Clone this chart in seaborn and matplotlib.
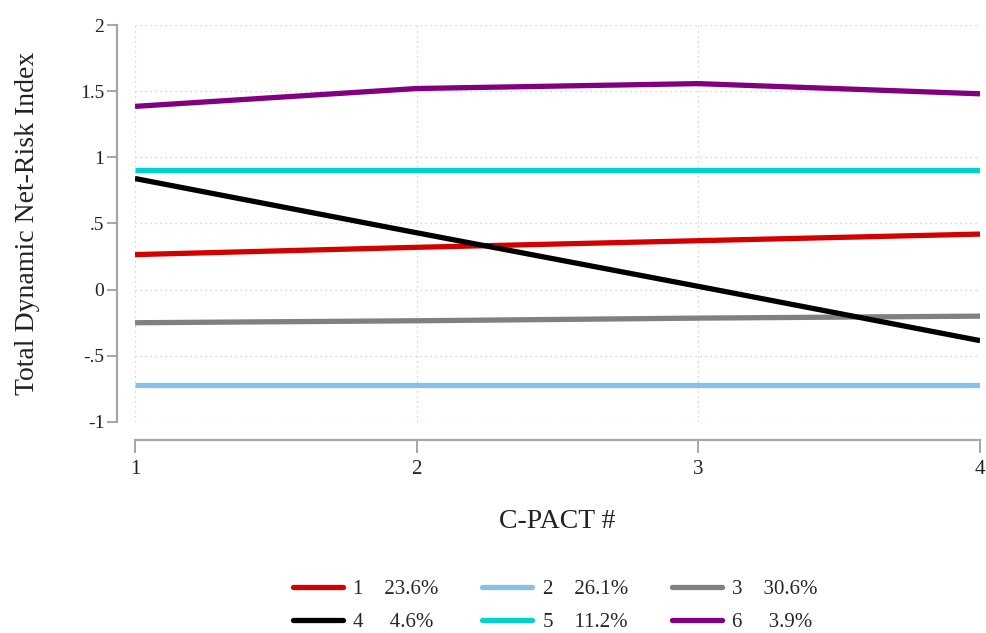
import numpy as np
import pandas as pd
import matplotlib
matplotlib.use("Agg")
import matplotlib.pyplot as plt
import seaborn as sns
from matplotlib.lines import Line2D

# C-PACT trajectories of the total dynamic net-risk index, by latent class
cpact = [1, 2, 3, 4]
class_ids = ["1", "2", "3", "4", "5", "6"]
class_share = ["23.6%", "26.1%", "30.6%", "4.6%", "11.2%", "3.9%"]
class_1 = [0.265, 0.32, 0.37, 0.42]
class_2 = [-0.72, -0.72, -0.72, -0.72]
class_3 = [-0.25, -0.235, -0.215, -0.20]
class_4 = [0.84, 0.43, 0.025, -0.385]
class_5 = [0.907, 0.907, 0.907, 0.907]
class_6 = [1.385, 1.52, 1.557, 1.48]
colors = ["#d40000", "#88c0ea", "#808080", "#000000", "#00d2d2", "#800080"]

series = [class_1, class_2, class_3, class_4, class_5, class_6]
df = pd.DataFrame({
    "cpact": cpact * len(class_ids),
    "risk": np.concatenate(series),
    "cls": np.repeat(class_ids, len(cpact)),
})

sns.set_style("white")
plt.rcParams["font.family"] = ["Liberation Serif", "DejaVu Serif"]

fig = plt.figure(figsize=(9.87, 6.33), dpi=100)
ax = fig.add_axes([135 / 987, 1 - 422 / 633, 845 / 987, 397 / 633])

sns.lineplot(data=df, x="cpact", y="risk", hue="cls", palette=colors,
             linewidth=3.8, legend=False, ax=ax, solid_capstyle="butt")

ax.set_xlim(1, 4)
ax.set_ylim(-1, 2)
ax.set_xticks(cpact)
ax.set_xticklabels([str(c) for c in cpact])
ax.set_yticks([-1, -0.5, 0, 0.5, 1, 1.5, 2])
ax.set_yticklabels(["-1", "-.5", "0", ".5", "1", "1.5", "2"])

ax.grid(True, linestyle=(0, (1, 3)), color="#c8c8c8", linewidth=0.9)
ax.set_axisbelow(True)
for side in ["top", "right"]:
    ax.spines[side].set_visible(False)
for side in ["left", "bottom"]:
    ax.spines[side].set_position(("outward", 13))
    ax.spines[side].set_color("#a6a6a6")
    ax.spines[side].set_linewidth(1.6)
ax.tick_params(axis="both", colors="#a6a6a6", width=1.4, labelcolor="#222222")
ax.tick_params(axis="y", length=7, direction="out", left=True, pad=2,
               labelsize=14)
ax.tick_params(axis="x", length=9, direction="out", bottom=True, pad=5,
               labelsize=15)

ax.set_xlabel("C-PACT #", fontsize=20, color="#222222", labelpad=22)
ax.set_ylabel("Total Dynamic Net-Risk Index", fontsize=20, color="#222222",
              labelpad=29)

# legend filled row-wise: 1 2 3 / 4 5 6
order = [0, 3, 1, 4, 2, 5]
handles = [Line2D([0], [0], color=colors[i], linewidth=3.8) for i in order]
labels = [f"{class_ids[i]}   {class_share[i]:>6}" for i in order]
fig.legend(handles, labels, loc="lower center", ncol=3, frameon=False,
           bbox_to_anchor=(0.5625, -0.028), fontsize=15, handlelength=2.4,
           columnspacing=2.1, handletextpad=0.5, labelspacing=0.62)

fig.savefig("out.png", dpi=100)
